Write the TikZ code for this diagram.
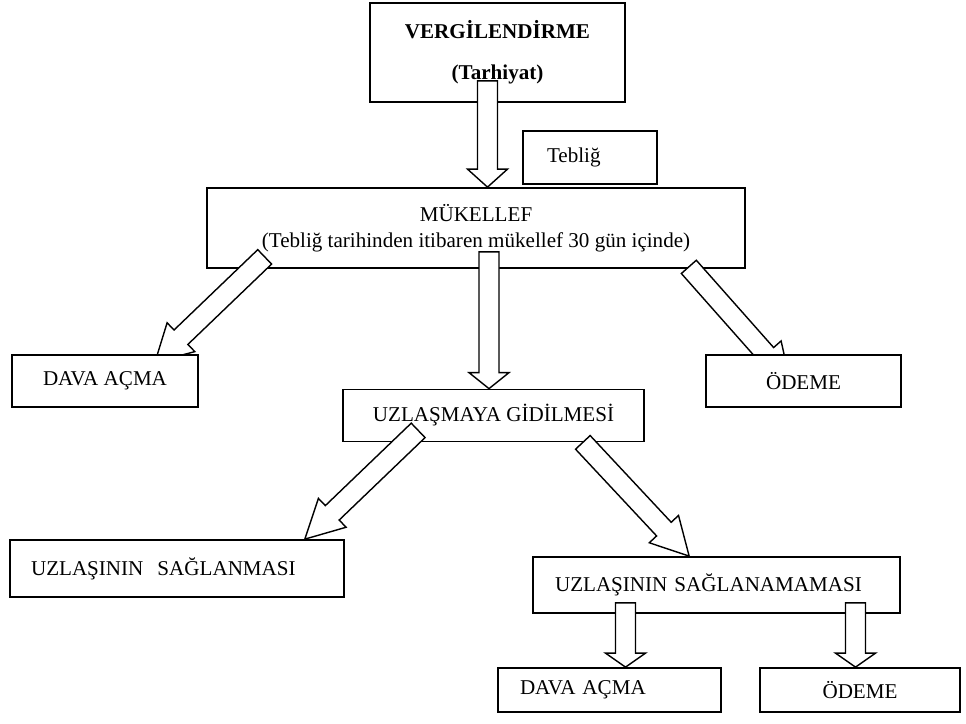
\documentclass[tikz,border=0pt]{standalone}
\usepackage{fontspec}
\setmainfont{Liberation Serif}
\usepackage{tikz}
\usetikzlibrary{calc}
\pgfdeclarelayer{front}
\pgfsetlayers{main,front}
\tikzset{%
	flow box/.style={
		draw,
		fill=white,
		line width=1pt,
		inner sep=0pt,
		font=\fontsize{12pt}{14.5pt}\selectfont
	},
	flow box left/.style={
		flow box,
		align=left,
		inner xsep=#1
	},
	block arrow/.style={
		draw,
		fill=white,
		line width=0.8pt
	},
}
% hollow block arrow: #2 = start of shaft, #3 = tip, #1 = head length
\newcommand{\blockarrow}[3][0.34cm]{%
	\coordinate (bahead) at ($(#3)!#1!(#2)$);
	\path[block arrow] ($(#2)!0.2cm!90:(#3)$) -- ($(bahead)!0.2cm!90:(#3)$)
		-- ($(bahead)!0.4cm!90:(#3)$) -- (#3)
		-- ($(bahead)!0.4cm!-90:(#3)$) -- ($(bahead)!0.2cm!-90:(#3)$)
		-- ($(#2)!0.2cm!-90:(#3)$) -- cycle;
}

\begin{document}
\begin{tikzpicture}[x=0.02cm, y=-0.02cm]
	\useasboundingbox (0,0) rectangle (966,723);

	% Top boxes
	\node[flow box, minimum width=5.1cm, minimum height=1.98cm, align=center] (verg) at (497.5,52.5)
		{\textbf{VERGİLENDİRME}\\[9pt]\textbf{(Tarhiyat)}};
	\node[flow box left=0.48cm, text width=1.72cm, minimum height=1.06cm] (teblig) at (590,157.5) {Tebliğ};
	\node[flow box, minimum width=10.76cm, minimum height=1.6cm, align=center] (muk) at (476,228)
		{MÜKELLEF\\(Tebliğ tarihinden itibaren mükellef 30 gün içinde)};

	% Middle boxes
	\node[flow box, minimum width=6.02cm, minimum height=1.04cm] (uzl) at (493.5,415.5) {UZLAŞMAYA GİDİLMESİ};
	\node[flow box left=0.42cm, text width=5.84cm, minimum height=1.14cm] (sagl) at (177,568.5) {UZLAŞININ\ \ SAĞLANMASI};
	\node[flow box left=0.44cm, text width=6.46cm, minimum height=1.12cm] (sagm) at (716.5,585) {UZLAŞININ SAĞLANAMAMASI};

	% Bottom boxes
	\node[flow box left=0.44cm, text width=3.58cm, minimum height=0.88cm] (dava2) at (609.5,690) {DAVA AÇMA};
	\node[flow box, minimum width=4cm, minimum height=0.88cm] (odeme2) at (860,690) {ÖDEME};

	% Boxes that cover the arrow heads
	\begin{pgfonlayer}{front}
		\node[flow box, minimum width=3.72cm, minimum height=1.04cm] (dava1) at (105,381) {DAVA AÇMA};
		\node[flow box, minimum width=3.9cm, minimum height=1.04cm] (odeme1) at (803.5,381) {ÖDEME};
	\end{pgfonlayer}

	% Arrow ends
	\coordinate (a1) at ([shift={(-10,-22)}]verg.south);
	\coordinate (b1) at (a1 |- muk.north);
	\coordinate (a2) at ([shift={(58.5,-12)}]muk.south west);
	\coordinate (b2) at ([shift={(50,8)}]dava1.north);
	\coordinate (a3) at ([shift={(13,-17)}]muk.south);
	\coordinate (b3) at (a3 |- uzl.north);
	\coordinate (a4) at ([shift={(-57,-2)}]muk.south east);
	\coordinate (b4) at ([shift={(-13.5,27)}]odeme1.north);
	\coordinate (a5) at ([shift={(76,-12)}]uzl.south west);
	\coordinate (b5) at ([shift={(-40,0)}]sagl.north east);
	\coordinate (a6) at ([shift={(-62,0)}]uzl.south east);
	\coordinate (b6) at ([shift={(157,0)}]sagm.north west);
	\coordinate (a7) at ([shift={(-91,-11)}]sagm.south);
	\coordinate (b7) at (a7 |- dava2.north);
	\coordinate (a8) at ([shift={(139,-11)}]sagm.south);
	\coordinate (b8) at (a8 |- odeme2.north);

	% Block arrows
	\blockarrow[0.36cm]{a1}{b1}
	\blockarrow[0.72cm]{a2}{b2}
	\blockarrow[0.32cm]{a3}{b3}
	\blockarrow[0.72cm]{a4}{b4}
	\blockarrow[0.76cm]{a5}{b5}
	\blockarrow[0.74cm]{a6}{b6}
	\blockarrow[0.28cm]{a7}{b7}
	\blockarrow[0.28cm]{a8}{b8}
\end{tikzpicture}
\end{document}
